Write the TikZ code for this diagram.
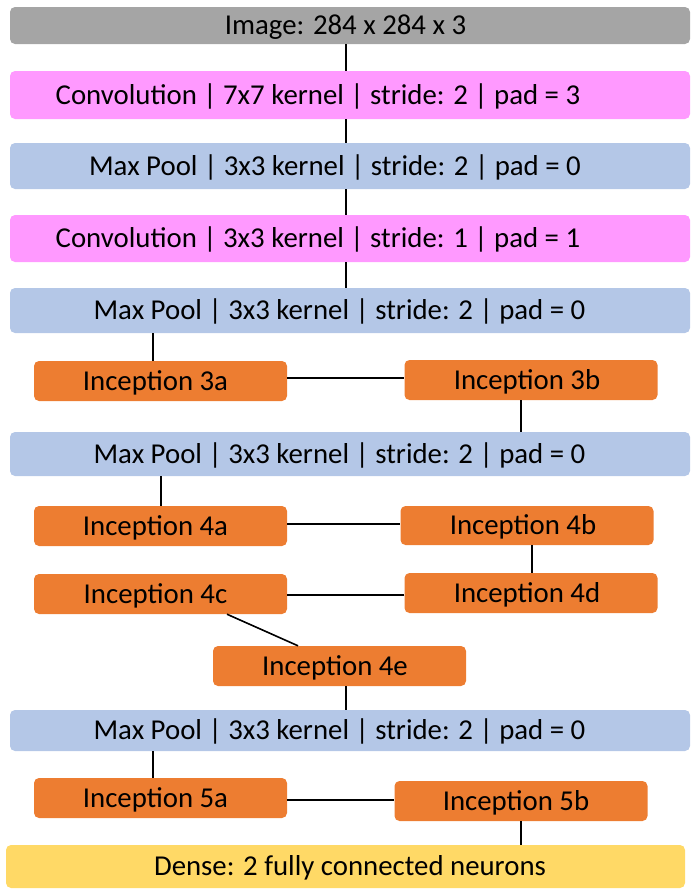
\documentclass[tikz,border=0pt]{standalone}
\usepackage{fontspec}
\setmainfont{Carlito}
\definecolor{cgray}{HTML}{A5A5A5}
\definecolor{cpink}{HTML}{FF99FF}
\definecolor{cblue}{HTML}{B4C7E7}
\definecolor{corange}{HTML}{ED7D31}
\definecolor{cyellow}{HTML}{FFD966}
\begin{document}
\begin{tikzpicture}[x=1pt,y=-1pt,
  txt/.style={font=\fontsize{28.8}{32}\selectfont, inner sep=0pt, text height=18.4pt, text depth=0pt},
  layer/.style={rounded corners=5pt, inner sep=0pt, minimum width=680pt},
  incep/.style={rounded corners=5pt, inner sep=0pt, fill=corange, minimum width=253pt, minimum height=40pt},
  link/.style={line width=1.6pt, black}]
\useasboundingbox (0,0) rectangle (697,894);
\node[layer, fill=cgray, minimum height=37pt, label={[txt, xshift=-4.5pt]center:Image: 284 x 284 x 3}] (img) at (350,25.5) {};
\node[layer, fill=cpink, minimum height=48pt, label={[txt, xshift=-32pt]center:Convolution | 7x7 kernel | stride: 2 | pad = 3}] (conv1) at (350,95) {};
\node[layer, fill=cblue, minimum height=46pt, label={[txt, xshift=-15pt]center:Max Pool | 3x3 kernel | stride: 2 | pad = 0}] (mp1) at (350,166) {};
\node[layer, fill=cpink, minimum height=47pt, label={[txt, xshift=-32pt]center:Convolution | 3x3 kernel | stride: 1 | pad = 1}] (conv2) at (350,238.5) {};
\node[layer, fill=cblue, minimum height=45pt, label={[txt, xshift=-10.5pt]center:Max Pool | 3x3 kernel | stride: 2 | pad = 0}] (mp2) at (350,310.5) {};
\node[incep, label={[txt, xshift=-5pt]center:Inception 3a}] (i3a) at (160.5,381) {};
\node[incep, label={[txt, xshift=-4pt]center:Inception 3b}] (i3b) at (531,380) {};
\node[layer, fill=cblue, minimum height=44pt, label={[txt, xshift=-10.5pt]center:Max Pool | 3x3 kernel | stride: 2 | pad = 0}] (mp3) at (350,454) {};
\node[incep, label={[txt, xshift=-5pt]center:Inception 4a}] (i4a) at (160.5,526) {};
\node[incep, minimum height=39pt, label={[txt, xshift=-4pt]center:Inception 4b}] (i4b) at (527,525.5) {};
\node[incep, label={[txt, xshift=-5pt]center:Inception 4c}] (i4c) at (160.5,594) {};
\node[incep, label={[txt, xshift=-4pt]center:Inception 4d}] (i4d) at (531,593) {};
\node[incep, label={[txt, xshift=-4.5pt]center:Inception 4e}] (i4e) at (339.5,666) {};
\node[layer, fill=cblue, minimum height=41pt, label={[txt, xshift=-10.5pt]center:Max Pool | 3x3 kernel | stride: 2 | pad = 0}] (mp4) at (350,730.5) {};
\node[incep, label={[txt, xshift=-5pt]center:Inception 5a}] (i5a) at (160.5,798) {};
\node[incep, label={[txt, xshift=-5pt]center:Inception 5b}] (i5b) at (521,801) {};
\node[layer, fill=cyellow, minimum width=679pt, minimum height=43pt, label={[txt, xshift=4.5pt]center:Dense: 2 fully connected neurons}] (dense) at (345.5,866.5) {};
% connectors
\draw[link] ([xshift=-4pt]img.south) -- ([xshift=-4pt]conv1.north);
\draw[link] ([xshift=-4pt]conv1.south) -- ([xshift=-4pt]mp1.north);
\draw[link] ([xshift=-4pt]mp1.south) -- ([xshift=-4pt]conv2.north);
\draw[link] ([xshift=-4pt]conv2.south) -- ([xshift=-4pt]mp2.north);
\draw[link] ([xshift=-7.5pt]i3a.north |- mp2.south) -- ([xshift=-7.5pt]i3a.north);
\draw[link] ([yshift=3pt]i3a.east) -- ([yshift=3pt]i3a.east -| i3b.west);
\draw[link] ([xshift=-10pt]i3b.south) -- ([xshift=-10pt]i3b.south |- mp3.north);
\draw[link] ([xshift=0.5pt]i4a.north |- mp3.south) -- ([xshift=0.5pt]i4a.north);
\draw[link] ([yshift=2pt]i4a.east) -- ([yshift=2pt]i4a.east -| i4b.west);
\draw[link] ([xshift=5pt]i4b.south) -- ([xshift=5pt]i4b.south |- i4d.north);
\draw[link] (i4d.west |- 0,595) -- (i4c.east |- 0,595);
\draw[link] ([xshift=66.5pt]i4c.south) -- ([xshift=-41.5pt]i4e.north);
\draw[link] ([xshift=6.5pt]i4e.south) -- ([xshift=6.5pt]i4e.south |- mp4.north);
\draw[link] ([xshift=-7.5pt]i5a.north |- mp4.south) -- ([xshift=-7.5pt]i5a.north);
\draw[link] (i5a.east |- 0,800) -- (i5b.west |- 0,800);
\draw[link] (i5b.south) -- (i5b.south |- dense.north);
\end{tikzpicture}
\end{document}
